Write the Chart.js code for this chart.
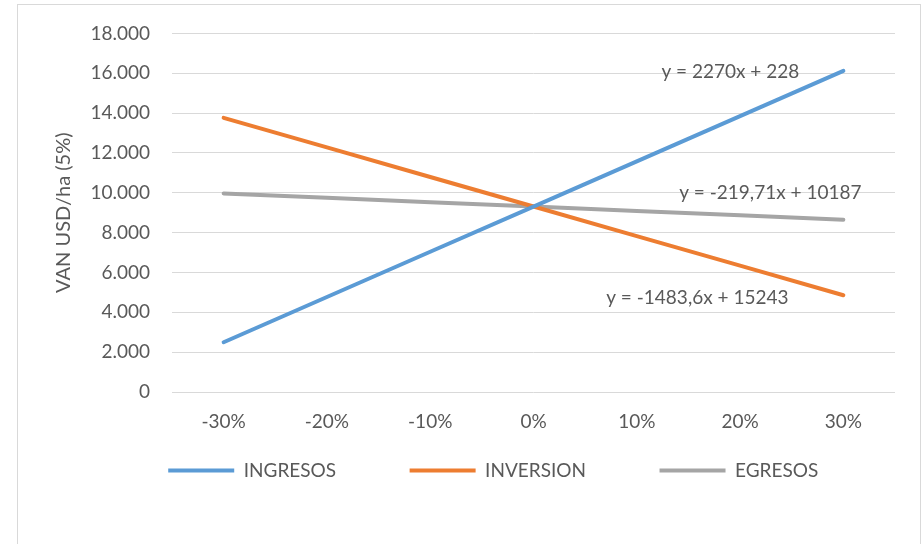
<!DOCTYPE html>
<html>
<head>
<meta charset="utf-8">
<script src="https://cdn.jsdelivr.net/npm/chart.js@4/dist/chart.umd.min.js"></script>
<style>
  html, body { margin: 0; padding: 0; background: #ffffff; }
  #wrap { width: 924px; height: 544px; position: relative; }
</style>
</head>
<body>
<div id="wrap"><canvas id="c" width="924" height="544"></canvas></div>
<script>
// Sensitivity of VAN (USD/ha, 5%) to changes in each cost/revenue item
const categories = ['-30%', '-20%', '-10%', '0%', '10%', '20%', '30%'];
const ingresos  = [2498, 4768, 7038, 9308, 11578, 13848, 16118];
const inversion = [13759, 12276, 10792, 9309, 7825, 6341, 4858];
const egresos   = [9967, 9748, 9528, 9308, 9088, 8869, 8649];
const seriesNames = ['INGRESOS', 'INVERSION', 'EGRESOS'];
const trendLabels = ['y = 2270x + 228', 'y = -1483,6x + 15243', 'y = -219,71x + 10187'];
const yAxisTitle = 'VAN USD/ha (5%)';

const FONT = 'Lato, "Open Sans", sans-serif';
const TEXT = '#595959';
const FS = 19;

function fmtThousands(v) {
  return String(v).replace(/\B(?=(\d{3})+(?!\d))/g, '.');
}

// Light frame around the whole chart
const framePlugin = {
  id: 'frame',
  beforeDraw(chart) {
    const ctx = chart.ctx;
    ctx.save();
    ctx.fillStyle = '#ffffff';
    ctx.fillRect(0, 0, chart.width, chart.height);
    ctx.strokeStyle = '#d9d9d9';
    ctx.lineWidth = 1;
    ctx.strokeRect(17.5, 4.5, 903, 600);
    ctx.restore();
  }
};

// Trendline equations placed next to the last point of each series
const trendOffsets = [[-113, 1], [-146, 3], [-73, -27]];
const trendPlugin = {
  id: 'trendText',
  afterDatasetsDraw(chart) {
    const ctx = chart.ctx;
    ctx.save();
    ctx.font = FS + 'px ' + FONT;
    ctx.fillStyle = TEXT;
    ctx.textAlign = 'center';
    ctx.textBaseline = 'middle';
    trendLabels.forEach((txt, i) => {
      const pts = chart.getDatasetMeta(i).data;
      const last = pts[pts.length - 1];
      ctx.fillText(txt, last.x + trendOffsets[i][0], last.y + trendOffsets[i][1]);
    });
    ctx.restore();
  }
};

// Place the legend row below the category labels
const legendPlacePlugin = {
  id: 'legendPlace',
  afterLayout(chart) {
    const lg = chart.legend;
    if (!lg) return;
    const h = lg.height;
    lg.left = 62.5; lg.right = 924; lg.width = lg.right - lg.left;
    lg.top = 387.5; lg.bottom = lg.top + h;
  }
};

const colors = ['#5B9BD5', '#ED7D31', '#A5A5A5'];
const values = [ingresos, inversion, egresos];

new Chart(document.getElementById('c'), {
  type: 'line',
  data: {
    labels: categories,
    datasets: values.map((arr, i) => ({
      label: seriesNames[i],
      data: arr,
      borderColor: colors[i],
      backgroundColor: colors[i],
      borderWidth: 4,
      borderCapStyle: 'round',
      borderJoinStyle: 'round',
      pointRadius: 0,
      pointHoverRadius: 0,
      tension: 0,
      fill: false
    }))
  },
  options: {
    responsive: false,
    animation: false,
    devicePixelRatio: 1,
    layout: { padding: { top: 31, left: 46, right: 29, bottom: 8.5 } },
    plugins: {
      tooltip: { enabled: false },
      legend: {
        position: 'bottom',
        labels: {
          usePointStyle: true,
          pointStyle: 'line',
          pointStyleWidth: 66,
          padding: 73.5,
          color: TEXT,
          font: { family: FONT, size: FS }
        }
      }
    },
    scales: {
      x: {
        offset: true,
        grid: { display: false, drawTicks: false },
        border: { display: false },
        ticks: { color: TEXT, font: { family: FONT, size: FS }, padding: 18, maxRotation: 0 },
        afterFit(s) { s.height = 41; }
      },
      y: {
        min: 0,
        max: 18000,
        grid: { color: '#d9d9d9', lineWidth: 1, drawTicks: false },
        border: { display: false },
        ticks: {
          stepSize: 2000,
          color: TEXT,
          font: { family: FONT, size: FS },
          padding: 22,
          callback: (v) => fmtThousands(v)
        },
        title: {
          display: true,
          text: yAxisTitle,
          color: TEXT,
          font: { family: FONT, size: 20 },
          padding: { top: 6, bottom: 4 }
        },
        afterFit(s) { s.width = 126; }
      }
    }
  },
  plugins: [framePlugin, trendPlugin, legendPlacePlugin]
});
</script>
</body>
</html>
